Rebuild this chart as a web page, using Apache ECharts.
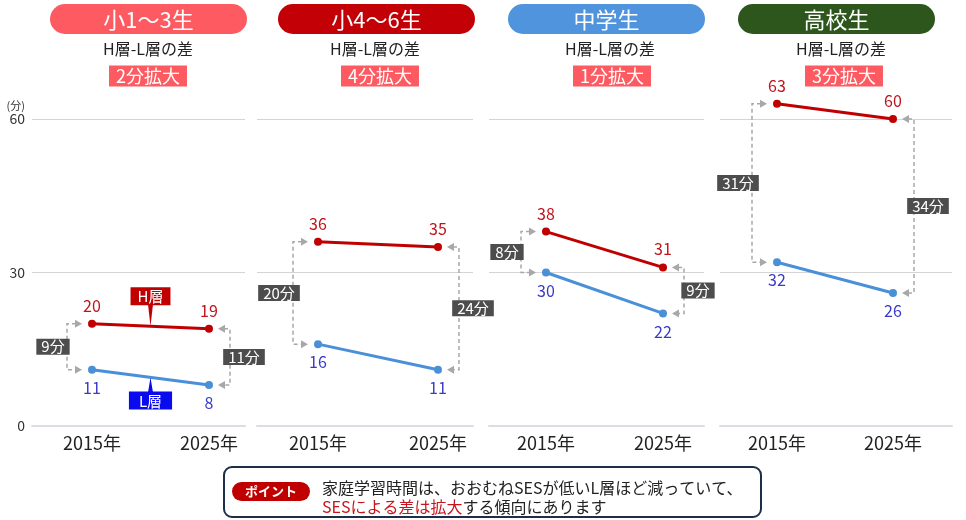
<!DOCTYPE html>
<html>
<head>
<meta charset="utf-8">
<script src="https://cdn.jsdelivr.net/npm/echarts@6/dist/echarts.min.js"></script>
<style>
html,body{margin:0;padding:0;background:#fff;}
#c{width:966px;height:520px;}
</style>
</head>
<body>
<div id="c"></div>
<script>
// ---- data ----
const years = [2015, 2025];
const groups = ['小1～3生', '小4～6生', '中学生', '高校生'];
const hValues = [[20, 19], [36, 35], [38, 31], [63, 60]];
const lValues = [[11, 8], [16, 11], [30, 22], [32, 26]];
const yTicks = [0, 30, 60];
const subtitle = 'H層-L層の差';
const note1 = '家庭学習時間は、おおむねSESが低いL層ほど減っていて、';
const note2red = 'SESによる差は拡大';
const note2 = 'する傾向にあります';

// ---- layout / style ----
const FONT = '"Noto Sans CJK JP", "Noto Sans", sans-serif';
const headerColors = ['#fd5b61', '#c20006', '#4f94dc', '#2c561c'];
const gridLeft = [32, 257, 489, 720];
const gridRight = [245, 473, 704, 952];
const px2015 = [92, 318, 546, 777];
const px2025 = [209, 438, 663, 893];
const pillX = [50, 278, 508, 738];
const subCx = [148, 375, 610, 841];
const badgeCx = [148, 380, 612, 844];
const H_COLOR = '#c00000', L_COLOR = '#4a90d9';
const H_LABEL = '#c0141c', L_LABEL = '#3a3ac8';
const GRID_TOP = 119, GRID_BOTTOM_Y = 426;

const chart = echarts.init(document.getElementById('c'));

const grids = [], xAxes = [], yAxes = [], series = [], graphics = [];

function bracketRender(params, api) {
  const x = api.value(0), h = api.value(1), l = api.value(2);
  const ph = api.coord([x, h]), pl = api.coord([x, l]);
  const left = params.dataIndex === 0;
  const bx = left ? ph[0] - 25 : ph[0] + 21;
  const tip = left ? ph[0] - 10 : ph[0] + 9;
  const d = left ? 1 : -1;
  const grey = '#a8a8a8';
  const arrow = (y) => ({
    type: 'polygon',
    shape: { points: [[tip, y], [tip - d * 7, y - 4], [tip - d * 7, y + 4]] },
    style: { fill: grey }
  });
  return {
    type: 'group',
    children: [
      { type: 'polyline',
        shape: { points: [[tip - d * 6, ph[1]], [bx, ph[1]], [bx, pl[1]], [tip - d * 6, pl[1]]] },
        style: { stroke: grey, lineWidth: 1.5, lineDash: [4, 3], fill: null } },
      arrow(ph[1]), arrow(pl[1]),
      { type: 'text', z2: 10,
        style: { text: (h - l) + '分', x: left ? bx - 14 : bx + 14, y: (ph[1] + pl[1]) / 2,
          align: 'center', verticalAlign: 'middle', fill: '#fff', font: '15px ' + FONT,
          backgroundColor: '#4d4d4d', padding: [1, 5, 0, 5] } }
    ]
  };
}

function calloutRender(params, api) {
  const x = api.value(0), hm = api.value(1), lm = api.value(2);
  const ph = api.coord([x, hm]), pl = api.coord([x, lm]);
  const hBoxBottom = ph[1] - 21, lBoxTop = pl[1] + 14;
  return {
    type: 'group',
    children: [
      { type: 'polygon', shape: { points: [[ph[0] - 2.5, hBoxBottom - 1], [ph[0] + 2.5, hBoxBottom - 1], [ph[0], ph[1]]] },
        style: { fill: H_COLOR } },
      { type: 'text', style: { text: 'H層', x: ph[0], y: hBoxBottom, align: 'center', verticalAlign: 'bottom',
        fill: '#fff', font: '15px ' + FONT, backgroundColor: H_COLOR, padding: [2, 7, 1, 7] } },
      { type: 'polygon', shape: { points: [[pl[0] - 2.5, lBoxTop + 1], [pl[0] + 2.5, lBoxTop + 1], [pl[0], pl[1]]] },
        style: { fill: '#0a0aee' } },
      { type: 'text', style: { text: 'L層', x: pl[0], y: lBoxTop, align: 'center', verticalAlign: 'top',
        fill: '#fff', font: '15px ' + FONT, backgroundColor: '#0a0aee', padding: [2, 10, 1, 10] } }
    ]
  };
}

groups.forEach((g, i) => {
  const ppy = (px2025[i] - px2015[i]) / (years[1] - years[0]);
  const xmin = years[0] - (px2015[i] - gridLeft[i]) / ppy;
  const xmax = years[1] + (gridRight[i] - px2025[i]) / ppy;
  grids.push({ left: gridLeft[i], width: gridRight[i] - gridLeft[i], top: GRID_TOP, bottom: 520 - GRID_BOTTOM_Y });
  xAxes.push({
    gridIndex: i, type: 'value', min: xmin, max: xmax,
    axisLine: { show: true, onZero: false, lineStyle: { color: '#dcdce6', width: 2 } },
    axisTick: { show: false },
    splitLine: { show: false },
    axisLabel: { customValues: years, formatter: v => Math.round(v) + '年', fontSize: 18, color: '#222',
      fontFamily: FONT, margin: 8 }
  });
  yAxes.push({
    gridIndex: i, type: 'value', min: yTicks[0], max: yTicks[yTicks.length - 1], interval: 30,
    axisLine: { show: false }, axisTick: { show: false },
    splitLine: { show: true, lineStyle: { color: '#d4d4d4', width: 1 } },
    axisLabel: { show: i === 0, fontSize: 14, color: '#333', fontFamily: FONT, margin: 7 },
    name: i === 0 ? '(分)' : '', nameLocation: 'end', nameGap: 13,
    nameTextStyle: { fontSize: 11, color: '#333', fontFamily: FONT, align: 'right', verticalAlign: 'middle', padding: [0, 7, 0, 0] }
  });
  const hData = years.map((y, j) => [y, hValues[i][j]]);
  const lData = years.map((y, j) => [y, lValues[i][j]]);
  const mk = (data, color, lc, pos) => ({
    type: 'line', xAxisIndex: i, yAxisIndex: i, data, clip: false, z: 4,
    symbol: 'circle', symbolSize: 8, itemStyle: { color },
    lineStyle: { color, width: 3 },
    label: { show: true, position: pos, distance: 6, fontSize: 16, color: lc, fontFamily: FONT }
  });
  series.push(mk(hData, H_COLOR, H_LABEL, 'top'));
  series.push(mk(lData, L_COLOR, L_LABEL, 'bottom'));
  series.push({
    type: 'custom', xAxisIndex: i, yAxisIndex: i, silent: true, z: 3,
    data: years.map((y, j) => [y, hValues[i][j], lValues[i][j]]),
    encode: { x: 0, y: [1, 2] },
    renderItem: bracketRender
  });
  if (i === 0) {
    const midY = (years[0] + years[1]) / 2;
    series.push({
      type: 'custom', xAxisIndex: i, yAxisIndex: i, silent: true, z: 5,
      data: [[midY, (hValues[0][0] + hValues[0][1]) / 2, (lValues[0][0] + lValues[0][1]) / 2]],
      encode: { x: 0, y: [1, 2] },
      renderItem: calloutRender
    });
  }
  // headers
  const gapChange = (hValues[i][1] - lValues[i][1]) - (hValues[i][0] - lValues[i][0]);
  graphics.push({ type: 'rect', shape: { x: pillX[i], y: 4, width: 197, height: 30, r: 15 }, style: { fill: headerColors[i] } });
  graphics.push({ type: 'text', style: { text: g, x: pillX[i] + 98.5, y: 20, align: 'center', verticalAlign: 'middle',
    fill: '#fff', font: '22px ' + FONT } });
  graphics.push({ type: 'text', style: { text: subtitle, x: subCx[i], y: 49, align: 'center', verticalAlign: 'middle',
    fill: '#222', font: '16px ' + FONT } });
  graphics.push({ type: 'text', style: { text: gapChange + '分拡大', x: badgeCx[i], y: 76, align: 'center', verticalAlign: 'middle',
    fill: '#fff', font: '18px ' + FONT, backgroundColor: '#fd5b61', padding: [2, 7, 1, 7] } });
});

// bottom note
graphics.push({ type: 'rect', shape: { x: 224, y: 467, width: 537, height: 50, r: 8 },
  style: { fill: '#fff', stroke: '#1c2e4a', lineWidth: 2 } });
graphics.push({ type: 'rect', shape: { x: 232, y: 482, width: 78, height: 19, r: 9.5 }, style: { fill: '#c00000' } });
graphics.push({ type: 'text', style: { text: 'ポイント', x: 271, y: 491.5, align: 'center', verticalAlign: 'middle',
  fill: '#fff', font: 'bold 13px ' + FONT } });
graphics.push({ type: 'text', style: { text: note1, x: 322, y: 488, align: 'left', verticalAlign: 'middle',
  fill: '#222', font: '16px ' + FONT } });
graphics.push({ type: 'text', style: { text: '{r|' + note2red + '}{k|' + note2 + '}', x: 322, y: 507, align: 'left', verticalAlign: 'middle',
  font: '16px ' + FONT,
  rich: { r: { fill: '#c8141e', font: '16px ' + FONT }, k: { fill: '#222', font: '16px ' + FONT } } } });

chart.setOption({
  animation: false,
  backgroundColor: '#fff',
  textStyle: { fontFamily: FONT },
  grid: grids, xAxis: xAxes, yAxis: yAxes, series,
  graphic: graphics
});
</script>
</body>
</html>
